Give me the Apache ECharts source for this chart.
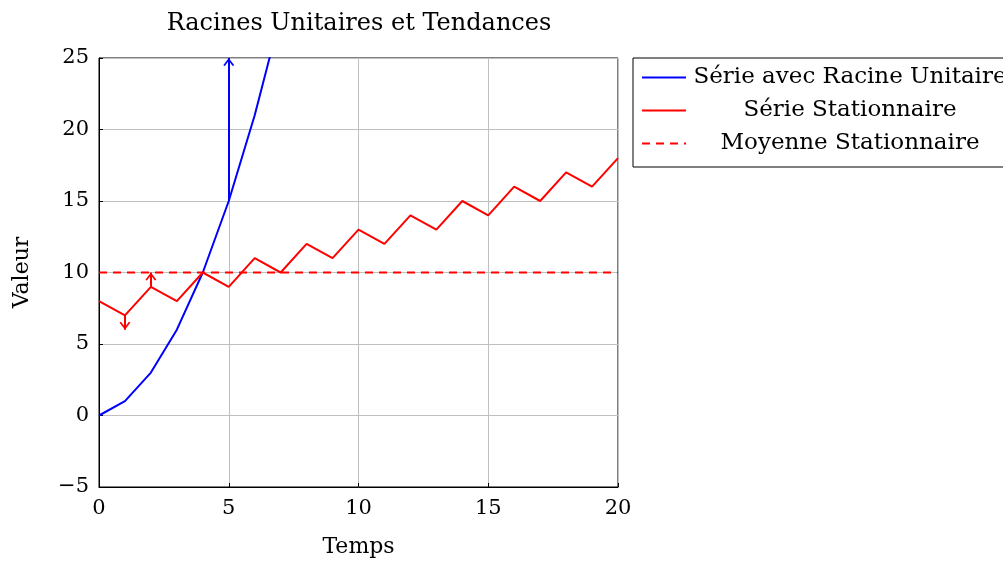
<!DOCTYPE html>
<html>
<head>
<meta charset="utf-8">
<script src="https://cdn.jsdelivr.net/npm/echarts@6/dist/echarts.min.js"></script>
<style>
  html, body { margin: 0; padding: 0; background: #fff; }
  #main { width: 1003px; height: 563px; }
</style>
</head>
<body>
<div id="main"></div>
<script>
// données
var temps = [0, 1, 2, 3, 4, 5, 6, 7, 8, 9, 10, 11, 12, 13, 14, 15, 16, 17, 18, 19, 20];
var racineUnitaire = [0, 1, 3, 6, 10, 15, 21, 28];
var stationnaire = [8, 7, 9, 8, 10, 9, 11, 10, 12, 11, 13, 12, 14, 13, 15, 14, 16, 15, 17, 16, 18];
var moyenne = 10;
// flèches : [x0, y0, x1, y1]
var flechesBleues = [[5, 15, 5, 25]];
var flechesRouges = [[1, 7, 1, 6], [2, 9, 2, 10]];

var police = 'DejaVu Serif';
// pointe ouverte (chevron), la pointe est au centre du symbole
var pointe = 'path://M5,-10 L5,-10 Z M0,9 L5,0 L10,9 L8.6,10 L5,3.4 L1.4,10 Z';

function paires(xs, ys) {
  return ys.map(function (v, i) { return [xs[i], v]; });
}

function marqueFleches(liste, couleur) {
  return {
    silent: true,
    symbol: ['none', pointe],
    symbolSize: [11, 16],
    label: { show: false },
    lineStyle: { color: couleur, width: 2, type: 'solid' },
    itemStyle: { color: couleur },
    data: liste.map(function (f) {
      return [{ coord: [f[0], f[1]] }, { coord: [f[2], f[3]] }];
    })
  };
}

var axeCommun = {
  axisLine: { show: true, onZero: false, lineStyle: { color: '#000' } },
  axisTick: { show: true, inside: true, length: 4, lineStyle: { color: '#000' } },
  splitLine: { show: true, lineStyle: { color: '#c0c0c0', width: 1 } }
};

var myChart = echarts.init(document.getElementById('main'));

myChart.setOption({
  animation: false,
  title: {
    text: 'Racines Unitaires et Tendances',
    left: 354,
    textAlign: 'center',
    top: 7,
    textStyle: { fontFamily: police, fontSize: 24, fontWeight: 'normal', color: '#000' }
  },
  legend: {
    left: 633,
    top: 58,
    orient: 'vertical',
    padding: [8, 10, 12, 8],
    itemGap: 10,
    itemWidth: 44,
    itemHeight: 22,
    borderColor: '#000',
    borderWidth: 1,
    borderRadius: 0,
    itemStyle: { opacity: 0 },
    formatter: function (n) { return '{t|' + n + '}'; },
    textStyle: {
      fontFamily: police, fontSize: 23, color: '#000',
      rich: { t: { fontFamily: police, fontSize: 23, lineHeight: 22, color: '#000', width: 318, align: 'center' } }
    },
    data: ['Série avec Racine Unitaire', 'Série Stationnaire', 'Moyenne Stationnaire']
  },
  grid: {
    left: 99, right: 385, top: 58, bottom: 76,
    show: true, borderColor: '#000', borderWidth: 1
  },
  xAxis: Object.assign({
    type: 'value',
    min: 0, max: 20, interval: 5,
    name: 'Temps',
    nameLocation: 'middle',
    nameGap: 49,
    nameTextStyle: { fontFamily: police, fontSize: 22, color: '#000' },
    axisLabel: { fontFamily: police, fontSize: 21, color: '#000', margin: 11 }
  }, axeCommun),
  yAxis: Object.assign({
    type: 'value',
    min: -5, max: 25, interval: 5,
    name: 'Valeur',
    nameLocation: 'middle',
    nameGap: 66,
    nameTextStyle: { fontFamily: police, fontSize: 22, color: '#000' },
    axisLabel: {
      fontFamily: police, fontSize: 21, color: '#000', margin: 10,
      formatter: function (v) { return String(v).replace('-', '\u2212'); }
    }
  }, axeCommun),
  series: [
    {
      name: 'Série avec Racine Unitaire',
      type: 'line',
      data: paires(temps, racineUnitaire),
      symbol: 'none',
      clip: true,
      lineStyle: { color: '#0000ff', width: 2 },
      itemStyle: { color: '#0000ff' },
      markLine: marqueFleches(flechesBleues, '#0000ff')
    },
    {
      name: 'Série Stationnaire',
      type: 'line',
      data: paires(temps, stationnaire),
      symbol: 'none',
      lineStyle: { color: '#ff0000', width: 2 },
      itemStyle: { color: '#ff0000' },
      markLine: marqueFleches(flechesRouges, '#ff0000')
    },
    {
      name: 'Moyenne Stationnaire',
      type: 'line',
      data: [[temps[0], moyenne], [temps[temps.length - 1], moyenne]],
      symbol: 'none',
      lineStyle: { color: '#ff0000', width: 2, type: [8, 6] },
      itemStyle: { color: '#ff0000' }
    }
  ]
});
</script>
</body>
</html>
